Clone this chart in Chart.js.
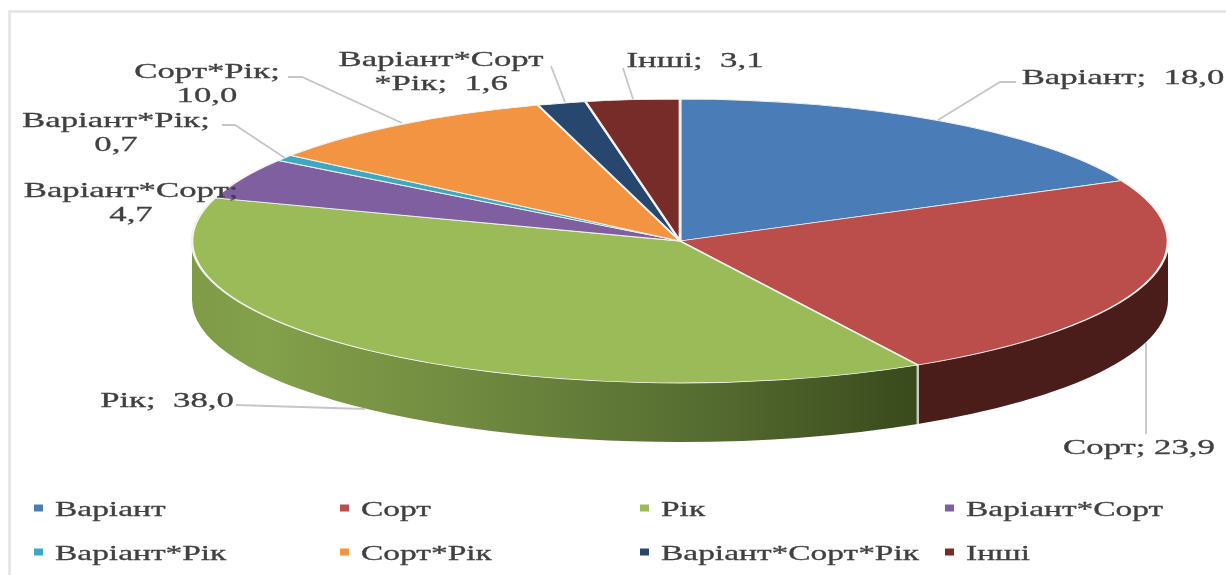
<!DOCTYPE html>
<html><head><meta charset="utf-8">
<style>html,body{margin:0;padding:0;background:#fff;overflow:hidden}#w{position:absolute;left:0;top:0;width:1226px;height:575px}</style>
<script src="https://cdn.jsdelivr.net/npm/chart.js@4/dist/chart.umd.min.js"></script>
</head><body><div id="w"><canvas id="c" width="1226" height="575"></canvas></div>
<script>
const categories = ['Варіант','Сорт','Рік','Варіант*Сорт','Варіант*Рік','Сорт*Рік','Варіант*Сорт*Рік','Інші'];
const values = [18.0,23.9,38.0,4.7,0.7,10.0,1.6,3.1];
const colors = ['#4a7db8','#bb4d4b','#9bbb59','#7f5f9f','#3ea7c2','#f39443','#28476f','#772c2a'];
const sepPerLabel = ['  ',' ','  ','  ','  ','  ','  ','  '];

const GEO = {cx:680, cy:241, rx:488, ry:142, depth:59};
const FONT = '22px "Liberation Serif"';
const SX_LABEL = 1.58;
const SX_LEGEND = 1.52;
const TEXT = '#404040';
// x = centre of the block, y = first baseline, brk = where the label wraps
const labelLayout = [
  {x:1123,y:84,brk:null},
  {x:1139,y:454,brk:null},
  {x:167,y:407,brk:null},
  {x:131,y:197,brk:'\n'},
  {x:116,y:127,brk:'\n'},
  {x:207,y:78,brk:'\n'},
  {x:441,y:66,brk:'*Рік'},
  {x:695,y:67,brk:null}
];
const leaders = [
  [[1016,82],[1000,82],[938,120]],
  [[1146,343],[1146,434]],
  [[236,405],[365,409]],
  null,
  [[222,125],[235,125],[285,158]],
  [[288,77],[302,77],[402,123]],
  [[551,66],[565,102]],
  [[623,68],[633,99]]
];
const legendCols = [34,340,640,945];
const legendRows = [508,552];

function text(ctx,s,x,y,align,sx){
  ctx.save();
  ctx.font=FONT; ctx.fillStyle=TEXT; ctx.strokeStyle=TEXT; ctx.lineWidth=0.3;
  ctx.textBaseline='alphabetic'; ctx.textAlign='left';
  ctx.filter='blur(0.35px)';
  const w=ctx.measureText(s).width*sx;
  const left=align==='center'?x-w/2:x;
  ctx.translate(left,y); ctx.scale(sx,1);
  ctx.fillText(s,0,0);
  ctx.strokeText(s,0,0);
  ctx.restore();
}

const pie3d = {
  id:'pie3d',
  beforeDraw(chart){
    const {ctx}=chart;
    ctx.save();
    ctx.fillStyle='#fff'; ctx.fillRect(0,0,1226,575);
    ctx.strokeStyle='#e4e4e4'; ctx.lineWidth=2.5;
    ctx.beginPath(); ctx.moveTo(9.5,575); ctx.lineTo(9.5,11.5); ctx.lineTo(1226,11.5); ctx.stroke();
    ctx.restore();
  },
  beforeDatasetsDraw(chart){
    const {ctx}=chart;
    const arcs=chart.getDatasetMeta(0).data;
    const {cx,cy,rx,ry,depth}=GEO;
    ctx.save();
    const seams=[];
    arcs.forEach((a,i)=>{
      const s=Math.max(a.startAngle,0), e=Math.min(a.endAngle,Math.PI);
      if(e<=s) return;
      ctx.beginPath();
      ctx.ellipse(cx,cy,rx,ry,0,s,e,false);
      ctx.ellipse(cx,cy+depth,rx,ry,0,e,s,true);
      ctx.closePath();
      if(i===2){
        const g=ctx.createLinearGradient(cx-rx,0,cx+237,0);
        g.addColorStop(0,'#7f9b48');g.addColorStop(0.1,'#83a04a');g.addColorStop(0.35,'#738d41');
        g.addColorStop(0.7,'#566d31');g.addColorStop(1,'#394a1c');
        ctx.fillStyle=g;
      } else ctx.fillStyle='#4a1d1b';
      ctx.fill();
      if(e<Math.PI) seams.push(e);
    });
    // pale seam on the wall at the slice boundary
    seams.forEach(e=>{
      const x=cx+rx*Math.cos(e), y=cy+ry*Math.sin(e);
      ctx.strokeStyle='#c9c9bd'; ctx.lineWidth=2.5;
      ctx.beginPath(); ctx.moveTo(x,y); ctx.lineTo(x,y+depth); ctx.stroke();
    });
    ctx.restore();
    const a0=arcs[0], R=a0.outerRadius;
    ctx.save();
    ctx.translate(cx,cy); ctx.scale(rx/R,ry/R); ctx.translate(-a0.x,-a0.y);
  },
  afterDatasetsDraw(chart){
    const {ctx}=chart;
    ctx.restore();
    ctx.save();
    ctx.strokeStyle='#c6c6c6'; ctx.lineWidth=1.8;
    leaders.forEach(l=>{
      if(!l) return;
      ctx.beginPath(); l.forEach((p,i)=>i?ctx.lineTo(p[0],p[1]):ctx.moveTo(p[0],p[1])); ctx.stroke();
    });
    ctx.restore();
    categories.forEach((c,i)=>{
      const v=values[i].toFixed(1).replace('.',',');
      const L=labelLayout[i];
      let lines;
      if(L.brk==='\n') lines=[c+';',v];
      else if(L.brk) lines=[c.slice(0,c.indexOf(L.brk)),L.brk+';'+sepPerLabel[i]+v];
      else lines=[c+';'+sepPerLabel[i]+v];
      lines.forEach((t,k)=>text(ctx,t,L.x,L.y+k*23.5,'center',SX_LABEL));
    });
    categories.forEach((c,i)=>{
      const x=legendCols[i%4], y=legendRows[Math.floor(i/4)];
      ctx.fillStyle=colors[i]; ctx.fillRect(x,y-3.5,9,7);
      text(ctx,c,x+21,y+8,'left',SX_LEGEND);
    });
  }
};

new Chart(document.getElementById('c'),{
  type:'pie',
  data:{labels:categories,datasets:[{data:values,backgroundColor:colors,borderColor:'#f3f3ee',borderWidth:1.6,clip:false}]},
  options:{responsive:false,animation:false,events:[],
    layout:{padding:0},
    plugins:{legend:{display:false},tooltip:{enabled:false},title:{display:false}}},
  plugins:[pie3d]
});
</script></body></html>
